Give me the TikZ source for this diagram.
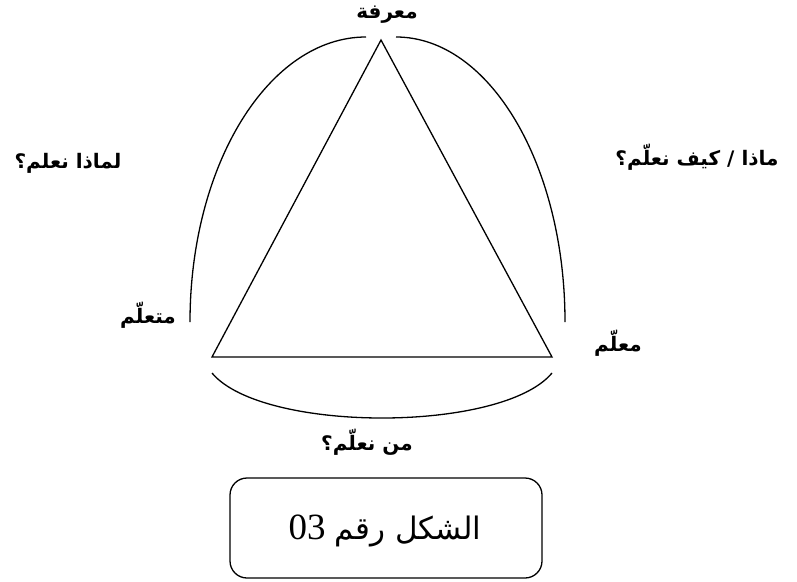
\documentclass[tikz,border=0pt]{standalone}
\usepackage{fontspec}
\setmainfont{Liberation Serif}
\newfontfamily\arabicfont[Script=Arabic]{DejaVu Sans}
\TeXXeTstate=1
\tikzset{
  lbl/.style={inner sep=0pt, font=\arabicfont\bfseries\fontsize{20}{24}\selectfont},
  ln/.style={line width=1.3pt, black},
  capbox/.style={draw, line width=1.3pt, rounded corners=17pt, minimum width=312pt, minimum height=100pt, inner sep=0pt}
}
\begin{document}
\begin{tikzpicture}[x=1pt,y=-1pt]
\useasboundingbox (0,0) rectangle (797,581);
% triangle corners
\coordinate (apex) at (381,40);
\coordinate (bl) at (212,357);
\coordinate (br) at (552,357);
\draw[ln, line join=miter] (apex) -- (bl) -- (br) -- cycle;
% arcs
\coordinate (la) at (190,322);
\coordinate (lb) at (366,37);
\coordinate (ra) at (396,37);
\coordinate (rb) at (565,322);
\coordinate (ba) at (212,373);
\coordinate (bb) at (552,373);
\draw[ln] (la) arc[start angle=180, end angle=90, x radius=176, y radius=-285];
\draw[ln] (ra) arc[start angle=90, end angle=0, x radius=169, y radius=-285];
\draw[ln] (ba) .. controls (262,433) and (502,433) .. (bb);
% labels
\node[lbl] (maarifa) at (387,15) {\beginR معرفة\endR};
\node[lbl] (limadha) at (68,163) {\beginR لماذا نعلم؟\endR};
\node[lbl] (madha) at (697,157) {\beginR ماذا / كيف نعلّم؟\endR};
\node[lbl] (mutaallim) at (148,315) {\beginR متعلّم\endR};
\node[lbl] (muallim) at (618,343) {\beginR معلّم\endR};
\node[lbl] (man) at (367,442) {\beginR من نعلّم؟\endR};
% caption box
\node[capbox] (cap) at (386,528) {};
\node[inner sep=0pt] (captext) at (385,531) {\fontsize{37}{44}\selectfont\beginR{\arabicfont\fontsize{31}{37}\selectfont الشكل رقم} \beginL 03\endL\endR};
\end{tikzpicture}
\end{document}
